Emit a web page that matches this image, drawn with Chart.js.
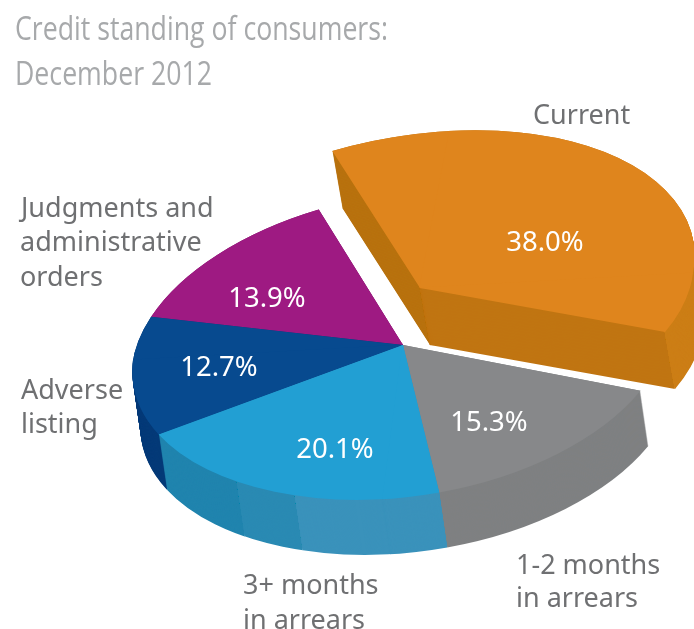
<!DOCTYPE html>
<html><head><meta charset="utf-8">
<style>html,body{margin:0;padding:0;background:#fff}canvas{display:block}</style>
<script src="https://cdn.jsdelivr.net/npm/chart.js@4"></script>
</head><body><canvas id="c" width="694" height="629"></canvas>
<script>
const titleLines = ['Credit standing of consumers:', 'December 2012'];
const categories = ['Current', '1-2 months in arrears', '3+ months in arrears', 'Adverse listing', 'Judgments and administrative orders'];
const shares = [38.0, 15.3, 20.1, 12.7, 13.9];
const topColors = ['#df851d', '#87888a', '#229fd3', '#074a8f', '#9e1a82'];
const startRotation = -24;

// projection of the flat pie onto the tilted view (style only)
const mainView = {ax:403, ay:345, rxL:270, rxR:266, ryT:155, ryB:154, shT:-28, shB:-20, skL:15, skR:-15, dx:8, dy:55};
const outView  = {ax:420, ay:288, rxL:283, rxR:273, ryT:157, ryB:149, shT:-30, shB:-17, skL:16, skR:-15, dx:10, dy:57};
const views = [outView, mainView, mainView, mainView, mainView];
// wall colour bands: [x limit relative to anchor, colour]
const wallBands = [
  [[0,'#b8720f'],[237,'#c07512'],[9999,'#cc7e16']],
  [[9999,'#7f8082']],
  [[-186,'#2084ae'],[-130,'#2a8ab3'],[9999,'#3a92bb']],
  [[9999,'#053a78']],
  [[9999,'#7d1568']]
];
const drawOrder = [4, 3, 1, 2];

// outside labels: [text, x, baseline]
const outsideLabels = [
  ['Current', 533, 124],
  ['Judgments and', 21, 217], ['administrative', 20, 251], ['orders', 20, 286],
  ['Adverse', 21, 399], ['listing', 21, 433],
  ['3+ months', 243, 594], ['in arrears', 243, 629],
  ['1-2 months', 516, 574], ['in arrears', 516, 607]
];
const valueLabelSpots = [[545,243],[489,423],[335,450],[219,368],[267,299]];
// title lines: [x, baseline, fitted width]
const titleSpots = [[15,40,373],[15,85,197]];

function quadrants(v){
  return [
    {a:v.rxL,b:-v.skL,c:v.shT,d:v.ryT,sx:-1,sy:-1},
    {a:v.rxR,b:v.skR,c:v.shT,d:v.ryT,sx:1,sy:-1},
    {a:v.rxL,b:-v.skL,c:v.shB,d:v.ryB,sx:-1,sy:1},
    {a:v.rxR,b:v.skR,c:v.shB,d:v.ryB,sx:1,sy:1}
  ];
}
function drawProjected(ctx, arc, view, color, ox, oy){
  const ghost = Object.create(arc);
  ghost.options = Object.assign({}, arc.options, {backgroundColor: color, borderWidth: 0, offset: 0});
  const R = arc.outerRadius, cx = arc.x, cy = arc.y, E = R * 1.3;
  for (const q of quadrants(view)){
    ctx.save();
    ctx.translate(view.ax + ox, view.ay + oy);
    ctx.transform(q.a/R, q.b/R, q.c/R, q.d/R, 0, 0);
    ctx.translate(-cx, -cy);
    ctx.beginPath();
    const x0 = q.sx < 0 ? cx - E : cx - 1, y0 = q.sy < 0 ? cy - E : cy - 1;
    ctx.rect(x0, y0, E + 1, E + 1);
    ctx.clip();
    ghost.draw(ctx);
    ctx.restore();
  }
}
function drawWall(ctx, arc, view, bands){
  const k = view.dx / view.dy;
  let from = -9999;
  for (const [to, color] of bands){
    ctx.save();
    ctx.transform(1, 0, k, 1, view.ax - k * view.ay, 0);
    ctx.beginPath();
    ctx.rect(from, -2000, to - from, 5000);
    ctx.clip();
    ctx.transform(1, 0, -k, 1, -(view.ax - k * view.ay), 0);
    for (let d = view.dy; d >= 0; d--){
      drawProjected(ctx, arc, view, color, view.dx * d / view.dy, d);
    }
    ctx.restore();
    from = to;
  }
}
const tiltedPie = {
  id: 'tiltedPie',
  beforeDatasetDraw(chart){
    const ctx = chart.ctx, arcs = chart.getDatasetMeta(0).data;
    drawWall(ctx, arcs[0], views[0], wallBands[0]);
    drawProjected(ctx, arcs[0], views[0], topColors[0], 0, 0);
    for (const i of drawOrder) drawWall(ctx, arcs[i], views[i], wallBands[i]);
    for (const i of drawOrder) drawProjected(ctx, arcs[i], views[i], topColors[i], 0, 0);
    return false;
  },
  afterDraw(chart){
    const ctx = chart.ctx;
    ctx.save();
    ctx.filter = 'blur(0.5px)';
    ctx.textBaseline = 'alphabetic';
    ctx.textAlign = 'left';
    ctx.font = '33px "Open Sans"';
    ctx.fillStyle = '#a7a9ab';
    titleLines.forEach((t, i) => {
      const [x, y, w] = titleSpots[i];
      ctx.save();
      ctx.translate(x, y);
      ctx.scale(w / ctx.measureText(t).width, 1);
      ctx.fillText(t, 0, 0);
      ctx.restore();
    });
    ctx.font = '27px "Noto Sans"';
    ctx.fillStyle = '#6f7072';
    for (const [t, x, y] of outsideLabels) ctx.fillText(t, x, y);
    ctx.font = '27.5px "Noto Sans"';
    ctx.fillStyle = '#ffffff';
    ctx.textAlign = 'center';
    ctx.textBaseline = 'middle';
    shares.forEach((s, i) => ctx.fillText(s.toFixed(1) + '%', valueLabelSpots[i][0], valueLabelSpots[i][1]));
    ctx.restore();
  }
};
new Chart(document.getElementById('c'), {
  type: 'pie',
  data: {labels: categories, datasets: [{data: shares, backgroundColor: topColors, borderWidth: 0}]},
  options: {
    responsive: false, animation: false, rotation: startRotation,
    plugins: {legend: {display: false}, tooltip: {enabled: false}, title: {display: false}}
  },
  plugins: [tiltedPie]
});
</script></body></html>
